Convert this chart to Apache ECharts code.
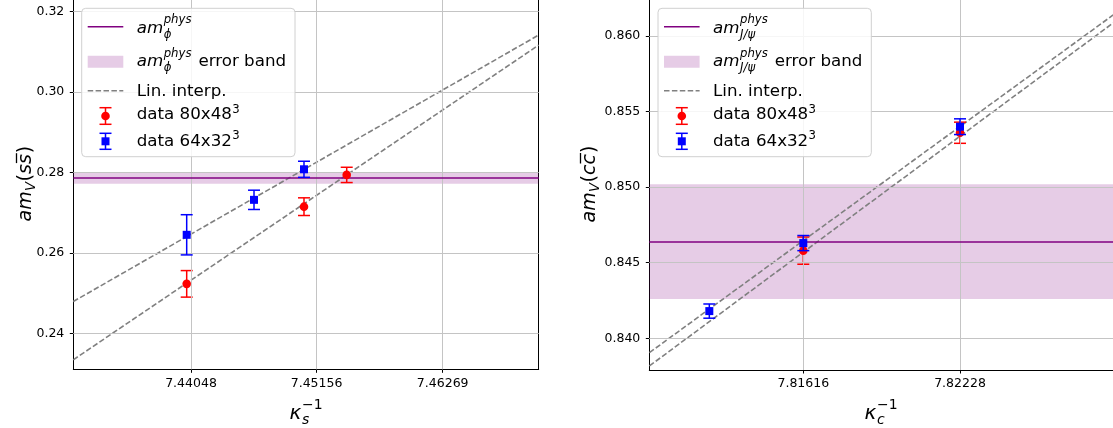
<!DOCTYPE html>
<html><head><meta charset="utf-8">
<script src="https://cdn.jsdelivr.net/npm/echarts@6/dist/echarts.min.js"></script>
<style>html,body{margin:0;padding:0;background:#fff}#c{width:1113px;height:428px}</style>
</head><body><div id="c"></div>
<script>
// ===== data: strange panel (kappa_s^-1) =====
const sTickX = [7.44048, 7.45156, 7.46269];
const sTickY = [0.24, 0.26, 0.28, 0.30, 0.32];
const sRedX = [7.44010, 7.45045, 7.45422];
const sRedY = [0.2523, 0.2715, 0.2794];
const sRedErr = [0.0033, 0.0022, 0.0019];
const sBlueX = [7.44010, 7.44604, 7.45045];
const sBlueY = [0.2645, 0.2732, 0.2808];
const sBlueErr = [0.0050, 0.0024, 0.0020];
const sPhys = [0.2786];
const sPhysErr = [0.0014];
const sLinX = [7.43009, 7.47116];
const sLinRed = [0.2334, 0.3117];
const sLinBlue = [0.2479, 0.3142];
// ===== data: charm panel (kappa_c^-1) =====
const cTickX = [7.81616, 7.82228];
const cTickY = [0.840, 0.845, 0.850, 0.855, 0.860];
const cRedX = [7.81616, 7.82228];
const cRedY = [0.8458, 0.8536];
const cRedErr = [0.0009, 0.0007];
const cBlueX = [7.81249, 7.81616, 7.82228];
const cBlueY = [0.8418, 0.8463, 0.8540];
const cBlueErr = [0.00047, 0.0005, 0.00052];
const cPhys = [0.8464];
const cPhysErr = [0.0038];
const cLinX = [7.81015, 7.82826];
const cLinRed = [0.83817, 0.86086];
const cLinBlue = [0.83905, 0.86139];

// ===== axis ranges (view limits) =====
const sRangeX = [7.430094, 7.471161], sRangeY = [0.231045, 0.32291];
const cRangeX = [7.810146, 7.828255], cRangeY = [0.837903, 0.862382];

const FONT = 'DejaVu Sans';
const GRIDC = '#c4c4c4';
const RED = '#ff0000', BLUE = '#0000ff', PURPLE = '#800080', GRAY = '#808080';

function xAx(g, ticks, r, d) {
  return {type:'value', gridIndex:g, min:r[0], max:r[1], position:'bottom',
    axisLine:{show:true, onZero:false, lineStyle:{color:'#000', width:1}},
    axisTick:{show:true, customValues:ticks, length:3.5, lineStyle:{color:'#000', width:1}},
    axisLabel:{show:true, customValues:ticks, formatter:v=>Number(v).toFixed(d), color:'#000', fontSize:12.5, fontFamily:FONT, margin:7.5},
    splitLine:{show:false}};
}
function yAx(g, ticks, r, d) {
  return {type:'value', gridIndex:g, min:r[0], max:r[1], position:'left',
    axisLine:{show:true, onZero:false, lineStyle:{color:'#000', width:1}},
    axisTick:{show:true, customValues:ticks, length:3.5, lineStyle:{color:'#000', width:1}},
    axisLabel:{show:true, customValues:ticks, formatter:v=>Number(v).toFixed(d), color:'#000', fontSize:12.5, fontFamily:FONT, margin:9},
    splitLine:{show:false}};
}
function gridSeries(xi, yi, tx, ty) {
  return {type:'line', xAxisIndex:xi, yAxisIndex:yi, data:[], z:1, silent:true,
    markLine:{silent:true, precision:10, symbol:['none','none'], animation:false, label:{show:false},
      lineStyle:{color:GRIDC, width:1, type:'solid'},
      data: tx.map(v=>({xAxis:v})).concat(ty.map(v=>({yAxis:v})))}};
}
function physSeries(xi, yi, phys, err) {
  return {type:'line', xAxisIndex:xi, yAxisIndex:yi, data:[], z:2, silent:true,
    markArea:{silent:true, precision:10, itemStyle:{color:'rgba(128,0,128,0.2)'},
      data:[[{yAxis:phys[0]-err[0]},{yAxis:phys[0]+err[0]}]]},
    markLine:{silent:true, precision:10, symbol:['none','none'], label:{show:false},
      lineStyle:{color:PURPLE, width:1.6, type:'solid'}, data:[{yAxis:phys[0]}]}};
}
function linSeries(xi, yi, xs, ys) {
  return {type:'line', xAxisIndex:xi, yAxisIndex:yi, data:xs.map((x,i)=>[x, ys[i]]),
    symbol:'none', silent:true, z:3, lineStyle:{color:GRAY, width:1.6, type:[5.5,2.4]}};
}
function errSeries(xi, yi, xs, ys, es, color, z) {
  return {type:'custom', xAxisIndex:xi, yAxisIndex:yi, z, silent:true,
    dimensions:['x','y','e'], encode:{x:0, y:1},
    data: xs.map((x,i)=>[x, ys[i], es[i]]),
    renderItem(params, api) {
      const x=api.value(0), y=api.value(1), e=api.value(2);
      const a=api.coord([x,y+e]), b=api.coord([x,y-e]);
      const hw=6, st={stroke:color, lineWidth:1.5};
      return {type:'group', children:[
        {type:'line', shape:{x1:a[0],y1:a[1],x2:b[0],y2:b[1]}, style:st},
        {type:'line', shape:{x1:a[0]-hw,y1:a[1],x2:a[0]+hw,y2:a[1]}, style:st},
        {type:'line', shape:{x1:b[0]-hw,y1:b[1],x2:b[0]+hw,y2:b[1]}, style:st}]};
    }};
}
function ptSeries(xi, yi, xs, ys, color, sym, size, z) {
  return {type:'scatter', xAxisIndex:xi, yAxisIndex:yi, data:xs.map((x,i)=>[x, ys[i]]),
    symbol:sym, symbolSize:size, itemStyle:{color, opacity:1}, z, silent:true};
}

// ===== text helpers (graphic) =====
function T(text, x, y, size, italic) {
  const f = (italic?'italic ':'') + size + 'px "' + FONT + '"';
  return {type:'text', x, y, z:100, style:{text, font:f, fill:'#000', align:'left', verticalAlign:'middle', textAlign:'left', textVerticalAlign:'middle'}};
}
function L(x1, y1, x2, y2, color, w, dash) {
  const st = {stroke:color, lineWidth:w};
  if (dash) st.lineDash = dash;
  return {type:'line', z:100, shape:{x1,y1,x2,y2}, style:st};
}
function legend(dx, subTxt) {
  const amX = 136.7 + dx, s0 = 87.7 + dx, s1 = 123.3 + dx, sc = 105.5 + dx;
  const F = 16.7, f = 11.7;
  const r = [28.3, 61.7, 91.7, 115, 141.7];
  const els = [];
  els.push({type:'rect', z:99, shape:{x:81.7+dx, y:8.3, width:213.3, height:148.4, r:4},
    style:{fill:'rgba(255,255,255,0.85)', stroke:'#d0d0d0', lineWidth:1}});
  // row 1
  els.push(L(s0, 26.7, s1, 26.7, PURPLE, 1.6));
  els.push(T('am', amX, r[0], F, true), T('phys', amX+27, r[0]-8, f, true), T(subTxt, amX+27, r[0]+6.5, f, true));
  // row 2
  els.push({type:'rect', z:100, shape:{x:s0, y:55.7, width:s1-s0, height:12}, style:{fill:'rgba(128,0,128,0.2)'}});
  els.push(T('am', amX, r[1], F, true), T('phys', amX+27, r[1]-8, f, true), T(subTxt, amX+27, r[1]+6.5, f, true));
  els.push(T('error band', amX+61.7, r[1], F, false));
  // row 3
  els.push(L(s0, 90.7, s1, 90.7, GRAY, 1.6, [5.5,2.4]));
  els.push(T('Lin. interp.', amX, r[2], F, false));
  // row 4 (red)
  els.push(L(sc, 107.7, sc, 124.3, RED, 1.5), L(sc-6, 107.7, sc+6, 107.7, RED, 1.5), L(sc-6, 124.3, sc+6, 124.3, RED, 1.5));
  els.push({type:'circle', z:100, shape:{cx:sc, cy:116, r:4.3}, style:{fill:RED}});
  els.push(T('data 80x48', amX, r[3], F, false), T('3', amX+95.5, r[3]-5.5, f, false));
  // row 5 (blue)
  els.push(L(sc, 133.3, sc, 149.3, BLUE, 1.5), L(sc-6, 133.3, sc+6, 133.3, BLUE, 1.5), L(sc-6, 149.3, sc+6, 149.3, BLUE, 1.5));
  els.push({type:'rect', z:100, shape:{x:sc-4, y:137.3, width:8, height:8}, style:{fill:BLUE}});
  els.push(T('data 64x32', amX, r[4], F, false), T('3', amX+95.5, r[4]-5.5, f, false));
  return els;
}
function yLabel(x, y, q) {
  const F = 19, f = 13.3;
  const cw = q === 'c' ? 10.5 : 9.9;
  const ch = [T('am', 0, 0, F, true), T('V', 30.5, 6, f, true), T('(', 40, 0, F, false),
    T(q, 47.5, 0, F, true), T(q, 47.5+cw, 0, F, true),
    L(47.5+cw+1, -9.5, 47.5+2*cw+1, -9.5, '#000', 1.3),
    T(')', 47.5+2*cw+1, 0, F, false)];
  return {type:'group', x, y, rotation:Math.PI/2, z:100, children:ch};
}
function xLabel(cx, y, q) {
  const F = 20, f = 14;
  const x0 = cx - 16.5;
  return [T('κ', x0, y, F, true), T(q, x0+12.5, y+6, f, true), T('−1', x0+12.5, y-9, f, false)];
}

const chart = echarts.init(document.getElementById('c'), null, {renderer:'canvas'});
chart.setOption({
  animation:false,
  backgroundColor:'#ffffff',
  grid:[
    {left:73.3, top:0, width:465.4, height:369.3, outerBoundsMode:'none', containLabel:false},
    {left:649.3, top:0, width:463.7, height:370, outerBoundsMode:'none', containLabel:false}
  ],
  xAxis:[ xAx(0, sTickX, sRangeX, 5), xAx(1, cTickX, cRangeX, 5) ],
  yAxis:[ yAx(0, sTickY, sRangeY, 2), yAx(1, cTickY, cRangeY, 3),
    {type:'value', gridIndex:0, min:sRangeY[0], max:sRangeY[1], position:'right',
      axisLine:{show:true, onZero:false, lineStyle:{color:'#000', width:1}},
      axisTick:{show:false}, axisLabel:{show:false}, splitLine:{show:false}} ],
  series:[
    gridSeries(0, 0, sTickX, sTickY),
    physSeries(0, 0, sPhys, sPhysErr),
    linSeries(0, 0, sLinX, sLinRed),
    linSeries(0, 0, sLinX, sLinBlue),
    errSeries(0, 0, sRedX, sRedY, sRedErr, RED, 4),
    ptSeries(0, 0, sRedX, sRedY, RED, 'circle', 8.6, 5),
    errSeries(0, 0, sBlueX, sBlueY, sBlueErr, BLUE, 6),
    ptSeries(0, 0, sBlueX, sBlueY, BLUE, 'rect', 8, 7),

    gridSeries(1, 1, cTickX, cTickY),
    physSeries(1, 1, cPhys, cPhysErr),
    linSeries(1, 1, cLinX, cLinRed),
    linSeries(1, 1, cLinX, cLinBlue),
    errSeries(1, 1, cRedX, cRedY, cRedErr, RED, 4),
    ptSeries(1, 1, cRedX, cRedY, RED, 'circle', 8.6, 5),
    errSeries(1, 1, cBlueX, cBlueY, cBlueErr, BLUE, 6),
    ptSeries(1, 1, cBlueX, cBlueY, BLUE, 'rect', 8, 7)
  ],
  graphic:[].concat(
    legend(0, 'ϕ'),
    legend(576.3, 'J/ψ'),
    [yLabel(26, 221.5, 's'), yLabel(590, 222.5, 'c')],
    xLabel(306, 414, 's'),
    xLabel(881, 414, 'c')
  )
});
</script></body></html>
